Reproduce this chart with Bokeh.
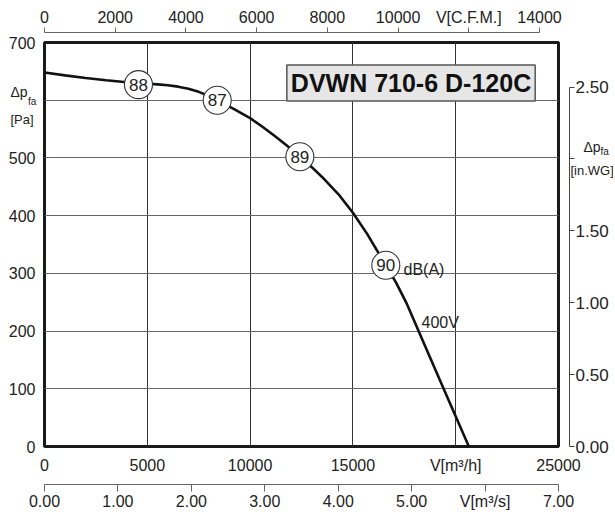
from bokeh.plotting import figure
from bokeh.models import (Range1d, LinearAxis, FixedTicker, Label, ColumnDataSource,
                          PrintfTickFormatter)
from bokeh.core.properties import value
from bokeh.embed import file_html
from bokeh.resources import INLINE

# ---- data ----
flow_m3h = [0, 1000, 2000, 3000, 4000, 5000, 5500, 6000, 6500, 7000, 7500, 8000, 8400,
            8800, 9200, 10000, 10600, 11200, 11800, 12400, 13000, 13500, 14300, 15000,
            15700, 16600, 17100, 17600, 18500, 19450, 20640]
pressure_pa = [648, 643, 638.5, 634.5, 631, 628.5, 627.5, 626, 623.5, 620, 614.5, 607.5, 600,
               592.5, 585, 569, 554, 538, 521, 503, 484, 467, 437, 405,
               368, 314, 284, 249, 175, 97, 0]

marker_flow = [4570, 8400, 12420, 16600]
marker_pa = [627, 600, 502, 314]
marker_db = ["88", "87", "89", "90"]

pa_ticks = [0, 100, 200, 300, 400, 500, 600, 700]
pa_label_ticks = [0, 100, 200, 300, 400, 500, 700]
m3h_ticks = [0, 5000, 10000, 15000, 20000, 25000]
cfm_ticks = [0, 2000, 4000, 6000, 8000, 10000, 12000, 14000]
m3s_ticks = [0, 1, 2, 3, 4, 5, 6, 7]
inwg_ticks = [0, 0.5, 1.0, 1.5, 2.0, 2.5]

title_text = "DVWN 710-6 D-120C"
voltage_text = "400V"
db_text = "dB(A)"

FONT = "Liberation Sans"
TXT = "#222222"
W, H = 613, 512
BL, BT, BR, BB = 44, 42, 55, 64          # frame borders in px
X0, X1, Y0, Y1 = 0, 25000, 0, 700

p = figure(width=W, height=H, x_range=Range1d(X0, X1), y_range=Range1d(Y0, Y1),
           output_backend="svg", toolbar_location=None, title=None,
           min_border_left=BL, min_border_top=BT, min_border_right=BR, min_border_bottom=BB)
p.background_fill_color = "white"
p.border_fill_color = "white"
p.outline_line_color = "#1a1a1a"
p.outline_line_width = 3

p.extra_x_ranges = {"cfm": Range1d(0, 14537), "m3s": Range1d(0, 7.0)}
p.extra_y_ranges = {"inwg": Range1d(0, 700 / 249.0889)}


def style_axis(ax, size="16px"):
    ax.major_label_text_font = FONT
    ax.major_label_text_font_size = size
    ax.major_label_text_color = TXT
    ax.minor_tick_line_color = None
    ax.minor_tick_out = 0
    ax.minor_tick_in = 0


def spacer(size, **kw):
    # an axis that only takes up room: one undrawn tick with an empty label
    ax = LinearAxis(ticker=FixedTicker(ticks=[0]), axis_line_color=None,
                    major_tick_line_color=None, major_tick_out=size, major_tick_in=0,
                    minor_tick_out=0, minor_tick_in=0, major_label_standoff=0,
                    major_label_text_font_size="1px",
                    major_label_overrides={0: ""}, **kw)
    return ax


# main x axis (m3/h)
xa = p.xaxis[0]
xa.ticker = FixedTicker(ticks=m3h_ticks)
xa.formatter = PrintfTickFormatter(format="%d")
xa.axis_line_color = None
xa.major_tick_line_color = None
xa.major_tick_out = 0
xa.major_tick_in = 0
xa.major_label_standoff = 10
xa.major_label_overrides = {20000: "V[m³/h]"}
style_axis(xa)

# main y axis (Pa)
ya = p.yaxis[0]
ya.ticker = FixedTicker(ticks=pa_label_ticks)
ya.formatter = PrintfTickFormatter(format="%d")
ya.axis_line_color = None
ya.major_tick_line_color = None
ya.major_tick_out = 0
ya.major_tick_in = 0
ya.major_label_standoff = 9
style_axis(ya)

p.xgrid.ticker = FixedTicker(ticks=m3h_ticks)
p.xgrid.grid_line_color = "#333333"
p.xgrid.grid_line_width = 1
p.ygrid.ticker = FixedTicker(ticks=pa_ticks)
p.ygrid.grid_line_color = "#666666"
p.ygrid.grid_line_width = 1

# bottom: spacer + m3/s axis
p.add_layout(spacer(8), "below")
ax_m3s = LinearAxis(x_range_name="m3s", ticker=FixedTicker(ticks=m3s_ticks),
                    formatter=PrintfTickFormatter(format="%.2f"), bounds=(0, 7))
ax_m3s.axis_line_color = "#666666"
ax_m3s.major_tick_line_color = "#666666"
ax_m3s.major_tick_out = 7
ax_m3s.major_tick_in = 0
ax_m3s.major_label_standoff = 1
ax_m3s.major_label_overrides = {6: "V[m³/s]"}
style_axis(ax_m3s)
p.add_layout(ax_m3s, "below")

# top: spacer + CFM axis
p.add_layout(spacer(10), "above")
ax_cfm = LinearAxis(x_range_name="cfm", ticker=FixedTicker(ticks=cfm_ticks),
                    formatter=PrintfTickFormatter(format="%d"), bounds=(0, 14000))
ax_cfm.axis_line_color = "#666666"
ax_cfm.major_tick_line_color = "#666666"
ax_cfm.major_tick_out = 5
ax_cfm.major_tick_in = 0
ax_cfm.major_label_standoff = 2
ax_cfm.major_label_overrides = {12000: "V[C.F.M.]"}
style_axis(ax_cfm)
p.add_layout(ax_cfm, "above")

# right: spacer + in.WG axis
p.add_layout(spacer(11, y_range_name="inwg"), "right")
ax_wg = LinearAxis(y_range_name="inwg", ticker=FixedTicker(ticks=inwg_ticks),
                   formatter=PrintfTickFormatter(format="%.2f"), bounds=(0, 2.5))
ax_wg.axis_line_color = "#444444"
ax_wg.major_tick_line_color = "#444444"
ax_wg.major_tick_out = 5
ax_wg.major_tick_in = 0
ax_wg.major_label_standoff = 1
ax_wg.major_label_overrides = {2.0: ""}
style_axis(ax_wg, "17px")
p.add_layout(ax_wg, "right")

# curve
src = ColumnDataSource(dict(x=flow_m3h, y=pressure_pa))
p.line("x", "y", source=src, line_color="#111111", line_width=2.6)

# dB markers
msrc = ColumnDataSource(dict(x=marker_flow, y=marker_pa, t=marker_db))
p.scatter("x", "y", source=msrc, size=28, fill_color="white", line_color="#333333",
          line_width=1.1)
p.text("x", "y", text="t", source=msrc, text_align="center", text_baseline="middle",
       text_font=value(FONT), text_font_size="17px", text_color=TXT)


def lbl(fig, x, y, text, size, **kw):
    lab = Label(x=x, y=y, text=text, text_font=FONT, text_font_size=size,
                text_color=TXT, **kw)
    fig.add_layout(lab)
    return lab


lbl(p, 17461, 307.5, db_text, "16px", text_baseline="middle")
lbl(p, 18337, 214.5, voltage_text, "16px", text_baseline="middle")

# model name box
p.add_layout(Label(x=17826, y=630, text=title_text, text_font=FONT, text_font_size="25px",
                   text_font_style="bold", text_color="#111111", text_align="center",
                   text_baseline="middle", background_fill_color="#e6e6e6",
                   border_line_color="#555555", border_line_width=1.5, padding=4))

# ---- transparent overlay whose frame is the whole canvas, using the same data
# scale as the main frame, for the pressure axis names that sit outside the frame
sx = (X1 - X0) / (W - BL - BR)
sy = (Y1 - Y0) / (H - BT - BB)
ov = figure(width=W, height=H,
            x_range=Range1d(X0 - BL * sx, X1 + BR * sx),
            y_range=Range1d(Y0 - BB * sy, Y1 + BT * sy),
            output_backend="svg", toolbar_location=None, title=None,
            x_axis_location=None, y_axis_location=None, min_border=0,
            styles={"position": "absolute", "left": "0px", "top": "0px"})
ov.grid.visible = False
ov.outline_line_color = None
ov.background_fill_color = None
ov.border_fill_color = None

lbl(ov, -1654, 615, "Δp", "14px", text_baseline="alphabetic")
lbl(ov, -803, 598.5, "fa", "10px", text_baseline="alphabetic")
lbl(ov, -1654, 566.5, "[Pa]", "13px", text_baseline="alphabetic")
lbl(ov, 26216, 519.5, "Δp", "14px", text_baseline="alphabetic")
lbl(ov, 27043, 512.5, "fa", "10px", text_baseline="alphabetic")
lbl(ov, 25584, 479.5, "[in.WG]", "13px", text_baseline="alphabetic")

open("out.html", "w").write(file_html([p, ov], INLINE))
